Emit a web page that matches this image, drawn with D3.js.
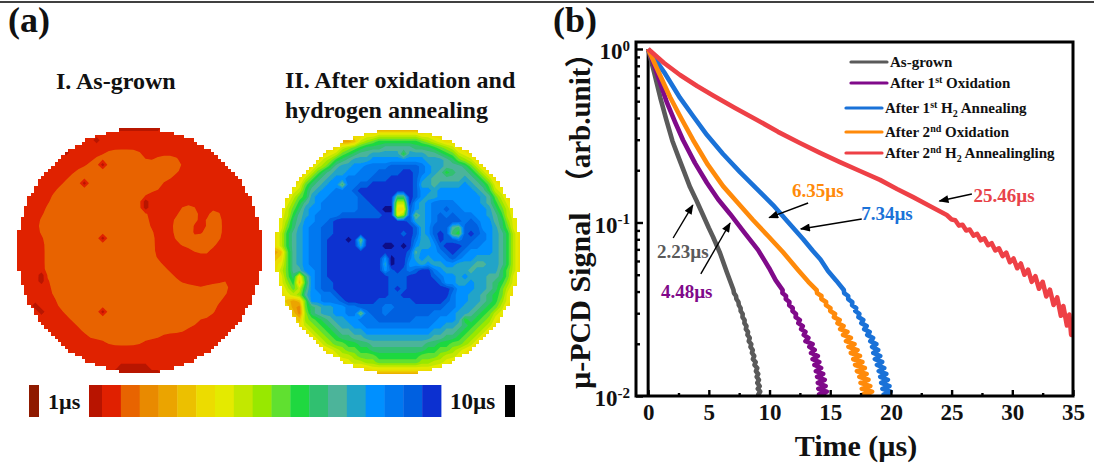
<!DOCTYPE html>
<html><head><meta charset="utf-8">
<script src="https://cdn.jsdelivr.net/npm/d3@7/dist/d3.min.js"></script>
<style>
html,body{margin:0;padding:0;background:#fff}
svg{display:block}
text{font-family:"Liberation Serif","Noto Sans CJK SC",serif;font-weight:bold;fill:#111}
</style></head><body>
<script>
// ---------- DATA ----------
const bandColors=["#b81400","#e02000","#e86400","#e98a00","#eba400","#ecc000","#ecdc00","#e4ea00","#c2e800","#98e800","#60e030","#1fd840","#30c070","#4cb49a","#20a4c8","#0090ff","#0078f0","#0060e0","#0c30d0","#0a1088"];
const barBands=d3.range(19);
const waferOneRuns=[[4,15,20],[5,13,20],[5,23,26],[6,12,27],[7,10,26],[8,9,25],[9,8,23],[10,7,23],[11,6,20],[12,6,20],[13,5,20],[13,27,29],[13,32,32],[14,5,21],[14,27,29],[14,32,33],[15,4,21],[15,24,24],[15,26,29],[15,31,33],[16,4,21],[16,26,28],[16,32,33],[17,4,22],[17,26,28],[17,31,33],[18,5,22],[18,26,28],[18,30,33],[19,5,22],[19,27,32],[20,5,22],[20,29,31],[21,5,22],[21,34,34],[22,5,23],[22,31,32],[23,5,24],[23,32,32],[24,5,25],[25,6,26],[25,34,35],[26,6,29],[26,31,34],[27,6,34],[28,7,33],[29,7,32],[30,8,32],[31,9,29],[31,31,31],[32,10,29],[33,11,27],[34,12,23],[35,15,20]];
const waferOneDark=[[6,14],[9,11],[18,14],[30,14],[12,21],[13,21],[29,3],[30,4],[24,4],[25,4],[2,13],[4,8],[0,16],[0,17],[0,18],[0,19],[0,20],[0,21],[0,22],[0,23],[40,16],[40,17],[40,18],[40,19],[40,20],[40,21],[40,22],[40,23],[39,17],[39,18],[39,19],[39,20],[39,21]];
const waferTwoRows=[
"66666666666666664444444446666666666666666",
"66666666666666677888888877666666666666666",
"66666666666445"+"89abbbbbbba98766"+"66666666666",
"6666666666"+"689abcccddd"+"ddcccba986"+"6666666666",
"66666666"+"678abcddeeeee"+"beeeddcba876"+"66666666",
"6666666"+"689bcdeeefffff"+"ffffeeedca986"+"6666666",
"666666"+"689bdeeffgggghhhhhgfeedddca86"+"666666",
"66666"+"68acdeeffggghhhhiihgfedbcddca86"+"66666",
"6666"+"68acdeffgggghhhiiiihfeddddde"+"dca86"+"6666",
"666"+"67acdeffcgghhiiiiiiihee"+"deeeefedca76"+"666",
"66"+"678bdeffggghiiiiiiiiihffeffffffedb876"+"66",
"6668ab"+"effggggg"+"hiiiii"+"cc"+"ihfeeff"+"fffffed"+"a8666",
"6679bd"+"efgggggg"+"hhiiii"+"88"+"ifefggg"+"gffffed"+"b9766",
"668ace"+"ffgggggg"+"hhhijj"+"66"+"hfefggh"+"ggffffe"+"ca866",
"678bde"+"fgggghhh"+"hhhhii"+"79"+"hcefghg"+"hgggffe"+"db876",
"679cdf"+"fgghiiii"+"iiiiii"+"ii"+"heefghh"+"hhghgff"+"dc976",
"67acef"+"gghhiiii"+"iiiiii"+"ii"+"ihefhhh"+"dchhhff"+"eca76",
"68bdef"+"gghhiiii"+"iiiiii"+"ih"+"ihefhih"+"cbhihgf"+"edb86",
"68bdef"+"gghiiiji"+"ciiiii"+"ii"+"igeegih"+"hghhggf"+"edb86",
"68bdef"+"gghiiiii"+"eiiijj"+"ij"+"ifeefhi"+"iihggff"+"edb86",
"45adef"+"gghiiiii"+"iiiiii"+"ii"+"hdfffgh"+"ihgffff"+"edb86",
"56adef"+"gghiiiii"+"iiiifj"+"ii"+"gefeffg"+"hgffeee"+"edb86",
"67adef"+"gghiiiii"+"iiiiej"+"ii"+"ffefeef"+"feeedde"+"edb86",
"68addf"+"fghiiiii"+"iiiifh"+"ih"+"ghiigfe"+"eeedeee"+"eca86",
"67ac6c"+"fghiiiii"+"iiiiih"+"hh"+"iiiihgf"+"fefeeed"+"dca76",
"679b5b"+"fghhiiii"+"iiiiih"+"hh"+"iiiiihf"+"feefeed"+"cb976",
"668a8c"+"fghhiiii"+"iiiiih"+"ih"+"iiiiiii"+"hfffeed"+"ca866",
"66789d"+"ffgghiii"+"iiiiih"+"hi"+"iiiiiii"+"gffeedc"+"ba766",
"66545a"+"ffggghii"+"iiihhh"+"hh"+"hiiiiih"+"gffeedc"+"b9766",
"66643a"+"cdeeffgg"+"hhhhgg"+"hh"+"hhhhhhg"+"gfeedcb"+"a8666",
"666539"+"cdeeffgg"+"cghhgh"+"hh"+"hhhhggg"+"feedcba"+"87666",
"666659"+"abcdeeff"+"ggghhh"+"hh"+"hggggff"+"febcba9"+"76666",
"666668"+"9abcdeef"+"fggggg"+"gg"+"ggggffe"+"edcba98"+"66666",
"666666"+"89abcdde"+"efffff"+"ff"+"ffffeed"+"dcba986"+"66666",
"666666"+"689abccd"+"deeeee"+"ee"+"eeeeddc"+"cba9866"+"66666",
"666666"+"6689aabb"+"ccdddd"+"dd"+"dddccbb"+"aa98666"+"66666",
"666666"+"666789aa"+"bbcccc"+"cc"+"cccbbaa"+"9876666"+"66666",
"666666"+"66667889"+"aaabbb"+"bb"+"bbaaa98"+"8766666"+"66666",
"666666"+"66666678"+"899aaa"+"aa"+"aa99887"+"6666666"+"66666",
"666666"+"66666666"+"667777"+"77"+"7777766"+"6666666"+"66666",
"666666666666666"+"444444444444"+"66666666666666"
];
// Curve heads: [time µs, signal]
const grayHead=[[0,1],[.5,.73],[1,.525],[1.5,.39],[2,.295],[2.5,.238],[3,.193],[3.45,.16],[4,.133],[4.52,.1104],[5,.0929],[5.35,.0825],[5.92,.0667],[6.5,.0513]];
const purpleHead=[[0,1],[.49,.809],[1,.635],[1.56,.489],[2.22,.379],[2.87,.299],[3.86,.22],[4.85,.169],[5.76,.136],[6.75,.112],[7.9,.0881],[9.05,.0695],[9.96,.0547],[10.5,.0465]];
const orangeHead=[[0,1],[.82,.746],[1.8,.529],[2.71,.4],[3.7,.299],[4.93,.2146],[6.17,.162],[7.4,.1295],[8.64,.1033],[9.88,.0836],[11.1,.0676],[12.35,.0532],[13.2,.0455]];
const blueHead=[[0,1],[1.31,.736],[2.63,.522],[3.7,.411],[4.85,.319],[6.17,.248],[7.57,.195],[8.89,.158],[10.29,.126],[11.52,.1007],[12.76,.0804],[13.58,.0685],[14.2,.0612],[14.82,.0525],[15.5,.0462]];
const redCurve=[[0,1],[1.31,.83],[2.63,.708],[4.03,.612],[5.35,.54],[7.16,.457],[8.97,.39],[10.7,.333],[12.5,.287],[14.16,.252],[15.8,.223],[17.45,.198],[19.1,.176],[20.5,.156],[21.83,.14],[23.2,.1245],[24.6,.1104],[25,.104],[25.3,.103],[25.6,.096],[25.9,.097],[26.2,.09],[26.5,.091],[26.8,.084],[27.1,.086],[27.4,.079],[27.7,.081],[28,.074],[28.3,.076],[28.6,.069],[28.9,.071],[29.2,.064],[29.5,.067],[29.8,.059],[30.1,.062],[30.4,.0545],[30.7,.058],[31,.05],[31.3,.0535],[31.6,.0455],[31.9,.049],[32.2,.0415],[32.5,.0455],[32.8,.0375],[33.1,.041],[33.4,.0335],[33.7,.037],[34,.029],[34.2,.033],[34.5,.0255],[34.7,.0295],[34.85,.0225],[35,.0265]];
// Noisy tails share signal levels; each series has its own read-off times
const tailValues=[.0408,.0392,.0377,.0362,.0348,.0334,.0321,.0309,.0297,.0285,.0274,.0263,.0253,.0243,.0234,.0225,.0216,.0207,.0199,.0192,.0184,.0177,.017,.0163,.0157,.0151,.0145,.0139,.0134,.0129,.0124,.0119,.0114,.011,.0106,.0102,.0098];
const grayTail=[7.03,7.07,7.24,7.27,7.44,7.47,7.62,7.62,7.79,7.77,7.95,7.93,8.1,8.05,8.23,8.18,8.37,8.29,8.5,8.43,8.62,8.55,8.74,8.63,8.86,8.76,8.99,8.88,9.07,8.94,9.13,8.99,9.19,9.03,9.23,9.07,9.25];
const purpleTail=[11.08,11.06,11.36,11.34,11.64,11.62,11.91,11.89,12.18,12.15,12.5,12.37,12.74,12.6,12.96,12.82,13.2,12.96,13.55,13.28,13.72,13.42,13.98,13.55,14.1,13.7,14.25,13.82,14.42,13.92,14.55,13.98,14.62,14.02,14.72,14.08,14.8];
const orangeTail=[13.88,13.92,14.28,14.27,14.66,14.65,15.02,15,15.4,15.3,15.78,15.6,16.1,15.82,16.42,16.06,16.7,16.3,17,16.5,17.25,16.7,17.45,16.9,17.65,17.05,17.85,17.2,18,17.4,18.15,17.5,18.3,17.6,18.45,17.7,18.55];
const blueTail=[16.12,16.15,16.48,16.48,16.82,16.8,17.14,17.06,17.4,17.32,17.72,17.56,18,17.8,18.25,18.05,18.53,18.3,18.8,18.45,18.95,18.55,19.12,18.68,19.28,18.85,19.45,19,19.62,19.12,19.75,19.2,19.88,19.3,19.98,19.4,20.1];
const seriesNames=["As-grown","After 1st Oxidation","After 1st H2 Annealing","After 2nd Oxidation","After 2nd H2 Annealingling"];
const seriesColors=["#5a5a5a","#800a8a","#1a72d8","#ff8a0a","#ee4046"];
const legendParts=[[["As-grown",""]],[["After 1",""],["st","sup"],[" Oxidation",""]],[["After 1",""],["st","sup"],[" H",""],["2","sub"],[" Annealing",""]],[["After 2",""],["nd","sup"],[" Oxidation",""]],[["After 2",""],["nd","sup"],[" H",""],["2","sub"],[" Annealingling",""]]];
const xTicks=[0,5,10,15,20,25,30,35];
const xMinorTicks=[2.5,7.5,12.5,17.5,22.5,27.5,32.5];
const yTicks=[1,.1,.01];
const yMinorTicks=[.9,.8,.7,.6,.5,.4,.3,.2,.09,.08,.07,.06,.05,.04,.03,.02];
const yExponents=["0","-1","-2"];
const arrowTails=[[2.06,.0814],[4.34,.0505],[13.18,.1295],[17.6,.1047],[26.67,.146]];
const arrowHeads=[[3.68,.126],[6.75,.0993],[9.97,.1066],[12.58,.0918],[24,.133]];
const lifetimeLabels=["2.23µs","4.48µs","6.35µs","7.34µs","25.46µs"];
const lifetimeColors=["#5a5a5a","#800a8a","#ff8a0a","#1a72d8","#e8434a"];
const lifetimeAnchors=[[.74,.0624],[1.05,.0367],[11.86,.14],[17.55,.1033],[26.8,.1318]];

// ---------- LAYOUT ----------
const W=1094,H=467;
const svg=d3.select("body").append("svg").attr("width",W).attr("height",H);
const defs=svg.append("defs");
defs.append("filter").attr("id","soft").append("feGaussianBlur").attr("stdDeviation",.7);
defs.append("marker").attr("id","head").attr("viewBox","0 0 10 8").attr("refX",9).attr("refY",4)
  .attr("markerUnits","userSpaceOnUse").attr("markerWidth",11).attr("markerHeight",8).attr("orient","auto")
  .append("path").attr("d","M0,0L10,4L0,8Z").attr("fill","#000");
svg.append("line").attr("x1",0).attr("x2",W).attr("y1",2).attr("y2",2).attr("stroke","#000").attr("stroke-width",1.5);

function txt(s,x,y,size,color,anchor){return svg.append("text").attr("x",x).attr("y",y).attr("font-size",size).style("fill",color||"#111").attr("text-anchor",anchor||"start").text(s);}
txt("(a)",8,32,36); txt("(b)",553,32,36);
txt("I. As-grown",56,89,24);
txt("II. After oxidation and",285,88,24);
txt("hydrogen annealing",285,118,24);

// ---------- WAFERS ----------
function drawWafer(id,values,thresholds,cx,cy,R,base){
  const cell=3.4, n=Math.ceil(R/cell);
  const clip=defs.append("clipPath").attr("id",id);
  const rows=d3.range(-n,n).map(j=>{
    const yc=(j+.5)*cell; const half=Math.sqrt(Math.max(0,R*R-yc*yc));
    const cells=Math.floor(half/cell+.5)*cell;
    return {x:Math.round(cx-cells),x2:Math.round(cx+cells),y:Math.round(cy+j*cell),y2:Math.round(cy+(j+1)*cell)};
  }).filter(r=>r.x2>r.x);
  clip.selectAll("rect").data(rows).join("rect").attr("x",d=>d.x).attr("y",d=>d.y).attr("width",d=>d.x2-d.x).attr("height",d=>d.y2-d.y);
  const px=d3.scaleLinear().domain([.5,40.5]).range([cx-R,cx+R]);
  const py=d3.scaleLinear().domain([.5,40.5]).range([cy-R,cy+R]);
  const path=d3.geoPath(d3.geoTransform({point(x,y){this.stream.point(px(x),py(y));}}));
  const contours=d3.contours().size([41,41]).thresholds(thresholds.map(t=>t-.5))(values);
  const g=svg.append("g").attr("clip-path",`url(#${id})`).append("g").attr("filter","url(#soft)");
  g.append("rect").attr("x",cx-R-4).attr("y",cy-R-4).attr("width",2*R+8).attr("height",2*R+8).attr("fill",bandColors[base]);
  g.selectAll("path").data(contours).join("path").attr("d",path).attr("fill",(d,i)=>bandColors[thresholds[i]]);
}
const gridOne=new Array(41*41).fill(1);
waferOneRuns.forEach(([r,a,b])=>{for(let c=a;c<=b;c++)gridOne[r*41+c]=2;});
d3.blur2({data:gridOne,width:41,height:41},.22);
waferOneDark.forEach(([r,c])=>{gridOne[r*41+c]=0;});
drawWafer("w1",gridOne,[1,2],139.5,250.5,122.5,0);
const gridTwo=waferTwoRows.flatMap(r=>Array.from(r.padEnd(41,"6").slice(0,41),ch=>parseInt(ch,36)));
drawWafer("w2",gridTwo,d3.range(3,20),397.5,252,122.5,2);

// ---------- COLOUR BAR ----------
const barX=d3.scaleLinear().domain([1,19]).range([102,441]);
svg.append("g").selectAll("rect").data(barBands).join("rect")
  .attr("x",d=>d===0?89:barX(d)).attr("y",385).attr("width",d=>d===0?13.4:barX(d+1)-barX(d)+.4).attr("height",32)
  .attr("fill",d=>bandColors[d]);
svg.append("rect").attr("x",29).attr("y",385).attr("width",10).attr("height",32).attr("fill","#8f1a00");
svg.append("rect").attr("x",505).attr("y",385).attr("width",10).attr("height",32).attr("fill","#000");
txt("1µs",48,409,22); txt("10µs",450,409,23);

// ---------- CHART ----------
const L=636,R=1073,T=42,B=396;
const x=d3.scaleLinear().domain([-1,35]).range([L,R]);
const y=d3.scaleLog().domain([.01,1.097]).range([B,T]);
defs.append("clipPath").attr("id","plot").append("rect").attr("x",L).attr("y",T).attr("width",R-L).attr("height",B-T);
const line=d3.line().x(d=>x(d[0])).y(d=>y(d[1]));
const plot=svg.append("g").attr("clip-path","url(#plot)");
plot.append("line").attr("x1",x(0)).attr("x2",x(0)).attr("y1",y(1)).attr("y2",y(.01)).attr("stroke","#000").attr("stroke-width",3);
const withTail=(head,times)=>head.concat(times.map((t,i)=>[t,tailValues[i]]));
[withTail(grayHead,grayTail),withTail(purpleHead,purpleTail),withTail(blueHead,blueTail),withTail(orangeHead,orangeTail),redCurve].forEach((c,i)=>{
  plot.append("path").attr("d",line(c)).attr("fill","none").attr("stroke",seriesColors[i]).attr("stroke-width",4.6).attr("stroke-linejoin","round");
});
// axes
function styleAxis(g){g.select(".domain").remove();g.selectAll("line").attr("stroke","#000").attr("stroke-width",2.4);
  g.selectAll("text").attr("font-size",23).style("font-family",'"Liberation Serif",serif').style("font-weight","bold").style("fill","#111");}
svg.append("g").attr("transform",`translate(0,${B})`).call(d3.axisBottom(x).tickValues(xTicks).tickSize(-6).tickPadding(8).tickFormat(d3.format("d"))).call(styleAxis);
svg.append("g").attr("transform",`translate(0,${B})`).call(d3.axisBottom(x).tickValues(xMinorTicks).tickSize(-3).tickFormat("")).call(styleAxis);
const gy=svg.append("g").attr("transform",`translate(${L},0)`).call(d3.axisLeft(y).tickValues(yTicks).tickSize(-7).tickPadding(6).tickFormat("")).call(styleAxis);
gy.selectAll(".tick text").each(function(d,i){
  const t=d3.select(this).attr("dy","0.42em").attr("text-anchor","end");
  t.text(null);
  t.append("tspan").text("10");
  t.append("tspan").attr("font-size",15).attr("dy","-0.55em").text(yExponents[i]);
});
svg.append("g").attr("transform",`translate(${L},0)`).call(d3.axisLeft(y).tickValues(yMinorTicks).tickSize(-4).tickFormat("")).call(styleAxis);
svg.append("rect").attr("x",L).attr("y",T).attr("width",R-L).attr("height",B-T).attr("fill","none").attr("stroke","#000").attr("stroke-width",3);
txt("Time (µs)",856,456,30,"#111","middle");
txt("µ-PCD Signal",0,0,30,"#111","start").attr("transform","translate(590,389) rotate(-90)");
txt("（arb.unit）",0,0,29,"#111","middle").attr("transform","translate(590,118) rotate(-90)");

// annotations
arrowTails.forEach((a,i)=>{
  svg.append("line").attr("x1",x(a[0])).attr("y1",y(a[1])).attr("x2",x(arrowHeads[i][0])).attr("y2",y(arrowHeads[i][1]))
   .attr("stroke","#000").attr("stroke-width",1.4).attr("marker-end","url(#head)");
});
lifetimeLabels.forEach((s,i)=>{txt(s,x(lifetimeAnchors[i][0]),y(lifetimeAnchors[i][1]),19,lifetimeColors[i]);});

// legend
const legY=[62,83,108,132,153], legX=[851,851,846,846,846];
seriesNames.forEach((n,i)=>{
  svg.append("line").attr("x1",legX[i]).attr("x2",legX[i]+36).attr("y1",legY[i]).attr("y2",legY[i]).attr("stroke",seriesColors[i]).attr("stroke-width",3.2).attr("stroke-linecap","round");
  const t=svg.append("text").attr("x",legX[i]+39).attr("y",legY[i]+4.5).attr("font-size",15);
  let shift=0;
  legendParts[i].forEach(([s,k])=>{
    const d=k==="sup"?-5:k==="sub"?4:0;
    t.append("tspan").attr("dy",d-shift).attr("font-size",k?10:15).text(s);
    shift=d;
  });
});
</script></body></html>
